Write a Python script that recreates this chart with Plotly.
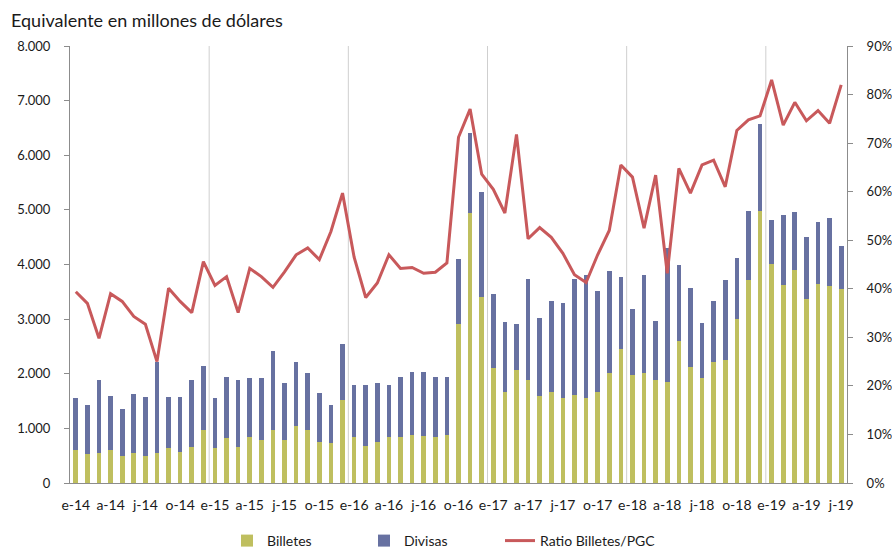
import plotly.graph_objects as go

months = [
    "2014-01", "2014-02", "2014-03", "2014-04", "2014-05", "2014-06", "2014-07", "2014-08", "2014-09", "2014-10", "2014-11", "2014-12",
    "2015-01", "2015-02", "2015-03", "2015-04", "2015-05", "2015-06", "2015-07", "2015-08", "2015-09", "2015-10", "2015-11", "2015-12",
    "2016-01", "2016-02", "2016-03", "2016-04", "2016-05", "2016-06", "2016-07", "2016-08", "2016-09", "2016-10", "2016-11", "2016-12",
    "2017-01", "2017-02", "2017-03", "2017-04", "2017-05", "2017-06", "2017-07", "2017-08", "2017-09", "2017-10", "2017-11", "2017-12",
    "2018-01", "2018-02", "2018-03", "2018-04", "2018-05", "2018-06", "2018-07", "2018-08", "2018-09", "2018-10", "2018-11", "2018-12",
    "2019-01", "2019-02", "2019-03", "2019-04", "2019-05", "2019-06", "2019-07",
]

billetes = [
    610, 525, 549, 610, 500, 549, 500, 549, 640, 573, 665, 976,
    640, 817, 665, 842, 793, 976, 793, 1037, 976, 750, 732, 1513,
    842, 683, 750, 842, 842, 878, 860, 842, 878, 2909, 4935, 3404,
    2104, 1659, 2074, 1879, 1586, 1671, 1562, 1604, 1562, 1671, 2019, 2458,
    1983, 2013, 1879, 1854, 2593, 2123, 1921, 2208, 2257, 3001, 3721, 4978,
    4014, 3630, 3904, 3361, 3648, 3605, 3556,
]

divisas = [
    945, 896, 1342, 988, 854, 1079, 1080, 1659, 940, 1007, 1226, 1165,
    915, 1122, 1226, 1073, 1122, 1433, 1037, 1171, 1037, 897, 689, 1037,
    958, 1117, 1080, 958, 1097, 1153, 1171, 1097, 1061, 1190, 1470, 1927,
    1361, 1287, 836, 1854, 1434, 1666, 1732, 2136, 2244, 1849, 1855, 1306,
    1197, 1793, 1092, 2446, 1390, 1439, 1007, 1123, 1464, 1117, 1251, 1592,
    799, 1274, 1049, 1135, 1122, 1251, 787,
]

ratio_pct = [
    39.4, 37.0, 29.8, 39.0, 37.4, 34.3, 32.7, 25.0, 40.1, 37.4, 35.1, 45.6,
    40.7, 42.5, 35.1, 44.2, 42.5, 40.3, 43.5, 47.0, 48.4, 46.0, 51.8, 59.7,
    46.5, 38.2, 41.2, 47.0, 44.2, 44.4, 43.2, 43.4, 45.3, 71.2, 77.0, 63.6,
    60.5, 55.6, 71.8, 50.3, 52.6, 50.6, 47.3, 42.9, 41.3, 47.0, 52.0, 65.5,
    63.0, 52.5, 63.4, 43.2, 64.8, 59.7, 65.5, 66.5, 61.0, 72.6, 74.8, 75.6,
    83.0, 73.7, 78.4, 74.6, 76.7, 74.1, 82.0,
]

tick_labels = [
    "e-14", "a-14", "j-14", "o-14", "e-15", "a-15", "j-15", "o-15",
    "e-16", "a-16", "j-16", "o-16", "e-17", "a-17", "j-17", "o-17",
    "e-18", "a-18", "j-18", "o-18", "e-19", "a-19", "j-19",
]

year_starts = ["2015-01", "2016-01", "2017-01", "2018-01", "2019-01"]

FONT = "Lato"
C_BIL = "#BFBF5F"
C_DIV = "#6771A1"
C_RAT = "#C8595B"
AX = "#8C8C8C"

fig = go.Figure()
fig.add_trace(go.Bar(x=months, y=billetes, name="Billetes", legend="legend",
                     marker=dict(color=C_BIL, line=dict(width=0))))
fig.add_trace(go.Bar(x=months, y=divisas, name="Divisas", legend="legend2",
                     marker=dict(color=C_DIV, line=dict(width=0))))
fig.add_trace(go.Scatter(x=months, y=[v / 100 for v in ratio_pct], name="Ratio Billetes/PGC",
                         legend="legend3", mode="lines", line=dict(color=C_RAT, width=3), yaxis="y2"))

shapes = []
for ys in year_starts:
    xi = months.index(ys) - 0.5
    shapes.append(dict(type="line", xref="x", yref="y", x0=xi, x1=xi, y0=0, y1=8000,
                       line=dict(color="#CFCFCF", width=1), layer="below"))

legend_common = dict(orientation="h", y=(548 - 541) / 548, xref="paper", yref="container",
                     xanchor="left", yanchor="middle", font=dict(size=14),
                     bgcolor="rgba(0,0,0,0)")

fig.update_layout(
    width=892, height=548,
    margin=dict(l=70, r=45, t=46, b=65, autoexpand=False),
    paper_bgcolor="white", plot_bgcolor="white",
    barmode="stack", bargap=0.6,
    separators=",.",
    font=dict(family=FONT, size=14, color="#1a1a1a"),
    shapes=shapes,
    showlegend=True,
    legend=dict(x=(227 - 70) / 777, **legend_common),
    legend2=dict(x=(364 - 70) / 777, **legend_common),
    legend3=dict(x=(500 - 70) / 777, **legend_common),
    xaxis=dict(type="category", categoryorder="array", categoryarray=months,
               tickvals=months[::3], ticktext=tick_labels, tickangle=0,
               showgrid=False, showline=True, linecolor=AX, linewidth=1,
               ticks="", tickfont=dict(size=14), zeroline=False, automargin=False,
               ticklabelstandoff=9),
    yaxis=dict(range=[0, 8000], dtick=1000, tickformat=",.0f", showgrid=False,
               showline=True, linecolor=AX, linewidth=1, ticks="outside", ticklen=5,
               tickcolor=AX, tickfont=dict(size=13), zeroline=False, automargin=False,
               ticklabelstandoff=11),
    yaxis2=dict(range=[0, 0.9], dtick=0.1, tickformat=".0%", overlaying="y", side="right",
                showgrid=False, showline=True, linecolor=AX, linewidth=1, ticks="outside",
                ticklen=5, tickcolor=AX, tickfont=dict(size=13), zeroline=False, automargin=False,
                ticklabelstandoff=11),
    annotations=[dict(text="Equivalente en millones de dólares", xref="paper", yref="paper",
                      x=-61 / 777, y=1 + 26 / 437, xanchor="left", yanchor="middle",
                      showarrow=False, font=dict(size=18, color="#1a1a1a"))],
)

fig.write_html("out.html", config={"displayModeBar": False},
               post_script="document.body.style.margin='0px';document.body.style.overflow='hidden';")
